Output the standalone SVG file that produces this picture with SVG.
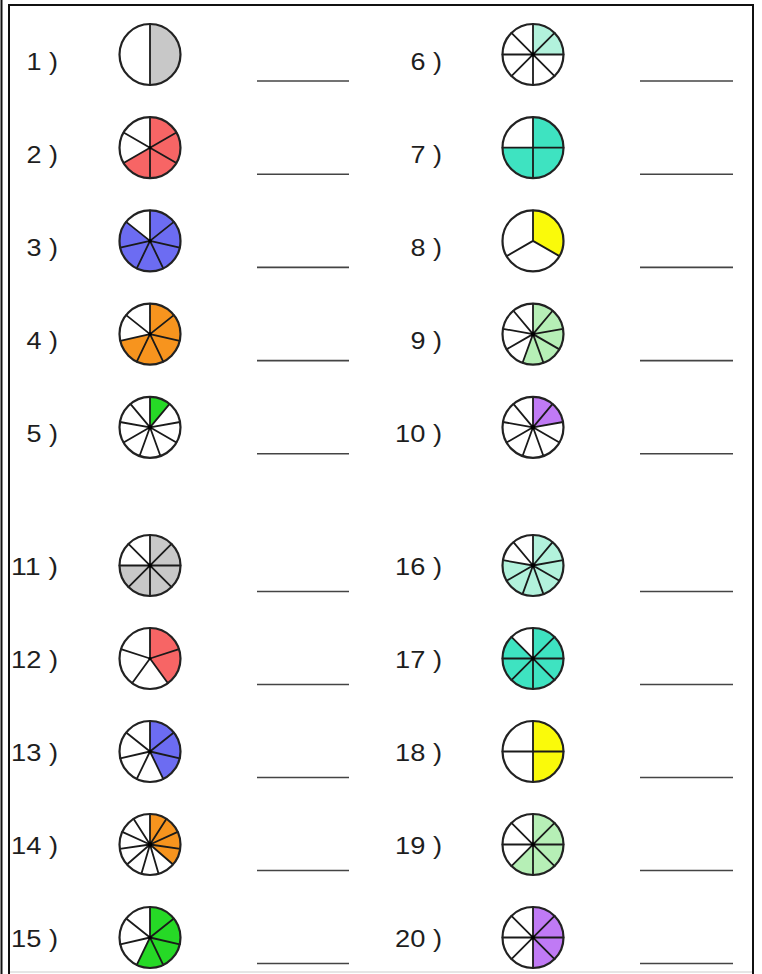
<svg xmlns="http://www.w3.org/2000/svg" xmlns:xlink="http://www.w3.org/1999/xlink" width="762" height="974" viewBox="0 0 762 974">
<style>
.lbl{font-family:"Liberation Sans",Arial,sans-serif;font-size:23px;fill:#1e1e1e}
.rad{fill:none;stroke:#1a1a1a;stroke-width:1.8;stroke-linecap:round}
.rim{fill:none;stroke:#222;stroke-width:2.2}
.ans{stroke:#444;stroke-width:1.6}
.dot{fill:#000}
.frame{stroke:#111;stroke-width:2;fill:none}
.gray{fill:#c8c8c8}.red{fill:#f76565}.blue{fill:#6c6cf2}.orange{fill:#f7941e}.green{fill:#26d926}
.lteal{fill:#b2f2dc}.teal{fill:#3ee3c1}.yellow{fill:#fafa0a}.lgreen{fill:#b6efb6}.purple{fill:#c07af5}
</style>
<defs>
<path id="r2" d="M0,-30.5V30.5"/>
<path id="r3" d="M0,0V-30.5M0,0L26.41,15.25M0,0L-26.41,15.25"/>
<path id="r4" d="M0,-30.5V30.5M-30.5,0H30.5"/>
<path id="r5" d="M0,0V-30.5M0,0L29.01,-9.42M0,0L17.93,24.67M0,0L-17.93,24.67M0,0L-29.01,-9.42"/>
<path id="r6" d="M0,-30.5V30.5M-26.41,-15.25L26.41,15.25M-26.41,15.25L26.41,-15.25"/>
<path id="r7" d="M0,0V-30.5M0,0L23.85,-19.02M0,0L29.73,6.79M0,0L13.23,27.48M0,0L-13.23,27.48M0,0L-29.73,6.79M0,0L-23.85,-19.02"/>
<path id="r8" d="M0,-30.5V30.5M-30.5,0H30.5M-21.57,-21.57L21.57,21.57M-21.57,21.57L21.57,-21.57"/>
<path id="r9" d="M0,0V-30.5M0,0L19.61,-23.36M0,0L30.04,-5.3M0,0L26.41,15.25M0,0L10.43,28.66M0,0L-10.43,28.66M0,0L-26.41,15.25M0,0L-30.04,-5.3M0,0L-19.61,-23.36"/>
<path id="r11" d="M0,0V-30.5M0,0L16.49,-25.66M0,0L27.74,-12.67M0,0L30.19,4.34M0,0L23.05,19.97M0,0L8.59,29.26M0,0L-8.59,29.26M0,0L-23.05,19.97M0,0L-30.19,4.34M0,0L-27.74,-12.67M0,0L-16.49,-25.66"/>
</defs>
<rect width="762" height="974" fill="#fff"/>
<g id="frame">
<line class="frame" x1="1.5" y1="0" x2="1.5" y2="974"/>
<line class="frame" x1="9" y1="4" x2="9" y2="974"/>
<line class="frame" x1="8" y1="5" x2="754" y2="5"/>
<line class="frame" x1="753" y1="4" x2="753" y2="974"/>
<line x1="10" y1="972" x2="752" y2="972" stroke="#ccc" stroke-width="1"/>
</g>

<g id="q1">
<text class="lbl" x="26.5" y="69.5" textLength="31.5" lengthAdjust="spacingAndGlyphs">1 )</text>
<g transform="translate(150,54.5)"><path class="gray" d="M0,0V-30.5A30.5,30.5 0 0 1 0,30.5Z"/><use href="#r2" class="rad"/><circle class="rim" r="30.5"/></g>
<line class="ans" x1="257" y1="81" x2="349" y2="81"/>
</g>
<g id="q2">
<text class="lbl" x="26.5" y="162.7" textLength="31.5" lengthAdjust="spacingAndGlyphs">2 )</text>
<g transform="translate(150,147.7)"><path class="red" d="M0,0V-30.5A30.5,30.5 0 1 1 -26.41,15.25Z"/><use href="#r6" class="rad"/><circle class="dot" r="1.6"/><circle class="rim" r="30.5"/></g>
<line class="ans" x1="257" y1="174.2" x2="349" y2="174.2"/>
</g>
<g id="q3">
<text class="lbl" x="26.5" y="255.9" textLength="31.5" lengthAdjust="spacingAndGlyphs">3 )</text>
<g transform="translate(150,240.9)"><path class="blue" d="M0,0V-30.5A30.5,30.5 0 1 1 -23.85,-19.02Z"/><use href="#r7" class="rad"/><circle class="dot" r="1.8"/><circle class="rim" r="30.5"/></g>
<line class="ans" x1="257" y1="267.4" x2="349" y2="267.4"/>
</g>
<g id="q4">
<text class="lbl" x="26.5" y="349.1" textLength="31.5" lengthAdjust="spacingAndGlyphs">4 )</text>
<g transform="translate(150,334.1)"><path class="orange" d="M0,0V-30.5A30.5,30.5 0 1 1 -29.73,6.79Z"/><use href="#r7" class="rad"/><circle class="dot" r="1.8"/><circle class="rim" r="30.5"/></g>
<line class="ans" x1="257" y1="360.6" x2="349" y2="360.6"/>
</g>
<g id="q5">
<text class="lbl" x="26.5" y="442.3" textLength="31.5" lengthAdjust="spacingAndGlyphs">5 )</text>
<g transform="translate(150,427.3)"><path class="green" d="M0,0V-30.5A30.5,30.5 0 0 1 19.61,-23.36Z"/><use href="#r9" class="rad"/><circle class="dot" r="2.2"/><circle class="rim" r="30.5"/></g>
<line class="ans" x1="257" y1="453.8" x2="349" y2="453.8"/>
</g>

<g id="q6">
<text class="lbl" x="410.5" y="69.5" textLength="31.5" lengthAdjust="spacingAndGlyphs">6 )</text>
<g transform="translate(533,54.5)"><path class="lteal" d="M0,0V-30.5A30.5,30.5 0 0 1 30.5,0Z"/><use href="#r8" class="rad"/><circle class="dot" r="2"/><circle class="rim" r="30.5"/></g>
<line class="ans" x1="640" y1="81" x2="733" y2="81"/>
</g>
<g id="q7">
<text class="lbl" x="410.5" y="162.7" textLength="31.5" lengthAdjust="spacingAndGlyphs">7 )</text>
<g transform="translate(533,147.7)"><path class="teal" d="M0,0V-30.5A30.5,30.5 0 1 1 -30.5,0Z"/><use href="#r4" class="rad"/><circle class="rim" r="30.5"/></g>
<line class="ans" x1="640" y1="174.2" x2="733" y2="174.2"/>
</g>
<g id="q8">
<text class="lbl" x="410.5" y="255.9" textLength="31.5" lengthAdjust="spacingAndGlyphs">8 )</text>
<g transform="translate(533,240.9)"><path class="yellow" d="M0,0V-30.5A30.5,30.5 0 0 1 26.41,15.25Z"/><use href="#r3" class="rad"/><circle class="rim" r="30.5"/></g>
<line class="ans" x1="640" y1="267.4" x2="733" y2="267.4"/>
</g>
<g id="q9">
<text class="lbl" x="410.5" y="349.1" textLength="31.5" lengthAdjust="spacingAndGlyphs">9 )</text>
<g transform="translate(533,334.1)"><path class="lgreen" d="M0,0V-30.5A30.5,30.5 0 1 1 -10.43,28.66Z"/><use href="#r9" class="rad"/><circle class="dot" r="2.2"/><circle class="rim" r="30.5"/></g>
<line class="ans" x1="640" y1="360.6" x2="733" y2="360.6"/>
</g>
<g id="q10">
<text class="lbl" x="395" y="442.3" textLength="47" lengthAdjust="spacingAndGlyphs">10 )</text>
<g transform="translate(533,427.3)"><path class="purple" d="M0,0V-30.5A30.5,30.5 0 0 1 30.04,-5.3Z"/><use href="#r9" class="rad"/><circle class="dot" r="2.2"/><circle class="rim" r="30.5"/></g>
<line class="ans" x1="640" y1="453.8" x2="733" y2="453.8"/>
</g>

<g id="q11">
<text class="lbl" x="11" y="575" textLength="47" lengthAdjust="spacingAndGlyphs">11 )</text>
<g transform="translate(150,565.5)"><path class="gray" d="M0,0V-30.5A30.5,30.5 0 1 1 -30.5,0Z"/><use href="#r8" class="rad"/><circle class="dot" r="2"/><circle class="rim" r="30.5"/></g>
<line class="ans" x1="257" y1="591.5" x2="349" y2="591.5"/>
</g>
<g id="q12">
<text class="lbl" x="11" y="668" textLength="47" lengthAdjust="spacingAndGlyphs">12 )</text>
<g transform="translate(150,658.5)"><path class="red" d="M0,0V-30.5A30.5,30.5 0 0 1 17.93,24.67Z"/><use href="#r5" class="rad"/><circle class="dot" r="1.6"/><circle class="rim" r="30.5"/></g>
<line class="ans" x1="257" y1="684.5" x2="349" y2="684.5"/>
</g>
<g id="q13">
<text class="lbl" x="11" y="761" textLength="47" lengthAdjust="spacingAndGlyphs">13 )</text>
<g transform="translate(150,751.5)"><path class="blue" d="M0,0V-30.5A30.5,30.5 0 0 1 13.23,27.48Z"/><use href="#r7" class="rad"/><circle class="dot" r="1.8"/><circle class="rim" r="30.5"/></g>
<line class="ans" x1="257" y1="777.5" x2="349" y2="777.5"/>
</g>
<g id="q14">
<text class="lbl" x="11" y="854" textLength="47" lengthAdjust="spacingAndGlyphs">14 )</text>
<g transform="translate(150,844.5)"><path class="orange" d="M0,0V-30.5A30.5,30.5 0 0 1 23.05,19.97Z"/><use href="#r11" class="rad"/><circle class="dot" r="2.4"/><circle class="rim" r="30.5"/></g>
<line class="ans" x1="257" y1="870.5" x2="349" y2="870.5"/>
</g>
<g id="q15">
<text class="lbl" x="11" y="947" textLength="47" lengthAdjust="spacingAndGlyphs">15 )</text>
<g transform="translate(150,937.5)"><path class="green" d="M0,0V-30.5A30.5,30.5 0 1 1 -13.23,27.48Z"/><use href="#r7" class="rad"/><circle class="dot" r="1.8"/><circle class="rim" r="30.5"/></g>
<line class="ans" x1="257" y1="963.5" x2="349" y2="963.5"/>
</g>

<g id="q16">
<text class="lbl" x="395" y="575" textLength="47" lengthAdjust="spacingAndGlyphs">16 )</text>
<g transform="translate(533,565.5)"><path class="lteal" d="M0,0V-30.5A30.5,30.5 0 1 1 -30.04,-5.3Z"/><use href="#r9" class="rad"/><circle class="dot" r="2.2"/><circle class="rim" r="30.5"/></g>
<line class="ans" x1="640" y1="591.5" x2="733" y2="591.5"/>
</g>
<g id="q17">
<text class="lbl" x="395" y="668" textLength="47" lengthAdjust="spacingAndGlyphs">17 )</text>
<g transform="translate(533,658.5)"><path class="teal" d="M0,0V-30.5A30.5,30.5 0 1 1 -21.57,-21.57Z"/><use href="#r8" class="rad"/><circle class="dot" r="2"/><circle class="rim" r="30.5"/></g>
<line class="ans" x1="640" y1="684.5" x2="733" y2="684.5"/>
</g>
<g id="q18">
<text class="lbl" x="395" y="761" textLength="47" lengthAdjust="spacingAndGlyphs">18 )</text>
<g transform="translate(533,751.5)"><path class="yellow" d="M0,0V-30.5A30.5,30.5 0 0 1 0,30.5Z"/><use href="#r4" class="rad"/><circle class="rim" r="30.5"/></g>
<line class="ans" x1="640" y1="777.5" x2="733" y2="777.5"/>
</g>
<g id="q19">
<text class="lbl" x="395" y="854" textLength="47" lengthAdjust="spacingAndGlyphs">19 )</text>
<g transform="translate(533,844.5)"><path class="lgreen" d="M0,0V-30.5A30.5,30.5 0 1 1 -21.57,21.57Z"/><use href="#r8" class="rad"/><circle class="dot" r="2"/><circle class="rim" r="30.5"/></g>
<line class="ans" x1="640" y1="870.5" x2="733" y2="870.5"/>
</g>
<g id="q20">
<text class="lbl" x="395" y="947" textLength="47" lengthAdjust="spacingAndGlyphs">20 )</text>
<g transform="translate(533,937.5)"><path class="purple" d="M0,0V-30.5A30.5,30.5 0 0 1 0,30.5Z"/><use href="#r8" class="rad"/><circle class="dot" r="2"/><circle class="rim" r="30.5"/></g>
<line class="ans" x1="640" y1="963.5" x2="733" y2="963.5"/>
</g>
</svg>
